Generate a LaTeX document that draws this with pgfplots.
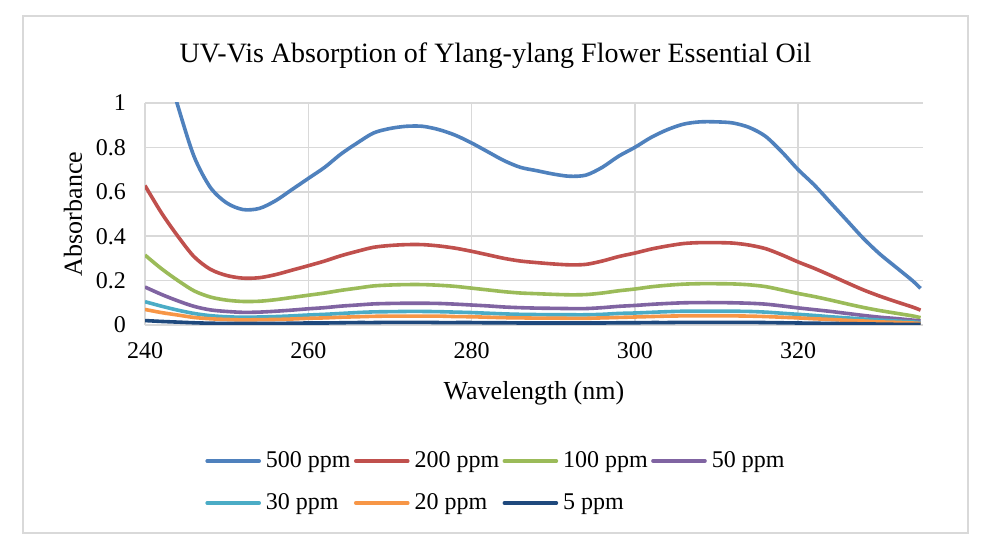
\documentclass[border=0pt]{standalone}
\usepackage{fontspec}
\setmainfont{Liberation Serif}
\usepackage{pgfplots}
\usepackage{pgfplotstable}
\pgfplotsset{compat=1.18}

\definecolor{cA}{HTML}{4F81BD}
\definecolor{cB}{HTML}{C0504D}
\definecolor{cC}{HTML}{9BBB59}
\definecolor{cD}{HTML}{8064A2}
\definecolor{cE}{HTML}{4BACC6}
\definecolor{cF}{HTML}{F79646}
\definecolor{cG}{HTML}{1F497D}
\definecolor{gridgray}{HTML}{D9D9D9}

% wavelength (nm) and absorbance for each concentration
\pgfplotstableread{
nm   p500  p200  p100  p50   p30   p20   p5
240  1.55  0.628 0.315 0.171 0.105 0.070 0.020
242  1.25  0.506 0.254 0.138 0.085 0.056 0.016
244  0.99  0.401 0.201 0.109 0.067 0.045 0.013
246  0.76  0.308 0.154 0.084 0.052 0.034 0.010
248  0.62  0.251 0.126 0.068 0.042 0.028 0.008
250  0.55  0.223 0.112 0.061 0.037 0.025 0.007
252  0.52  0.211 0.106 0.057 0.035 0.023 0.007
254  0.525 0.213 0.107 0.058 0.036 0.024 0.007
256  0.56  0.227 0.114 0.062 0.038 0.025 0.007
258  0.61  0.247 0.124 0.067 0.041 0.027 0.008
260  0.66  0.267 0.134 0.073 0.045 0.030 0.009
262  0.71  0.288 0.144 0.078 0.048 0.032 0.009
264  0.77  0.312 0.156 0.085 0.052 0.035 0.010
266  0.82  0.332 0.166 0.090 0.056 0.037 0.011
268  0.865 0.350 0.176 0.095 0.059 0.039 0.011
270  0.885 0.358 0.180 0.097 0.060 0.040 0.012
272  0.895 0.362 0.182 0.098 0.061 0.040 0.012
274  0.895 0.362 0.182 0.098 0.061 0.040 0.012
276  0.88  0.356 0.179 0.097 0.060 0.040 0.011
278  0.855 0.346 0.174 0.094 0.058 0.038 0.011
280  0.82  0.332 0.166 0.090 0.056 0.037 0.011
282  0.78  0.316 0.158 0.086 0.053 0.035 0.010
284  0.74  0.300 0.150 0.081 0.050 0.033 0.010
286  0.71  0.288 0.144 0.078 0.048 0.032 0.009
288  0.695 0.281 0.141 0.076 0.047 0.031 0.009
290  0.68  0.275 0.138 0.075 0.046 0.031 0.009
292  0.67  0.271 0.136 0.074 0.046 0.030 0.009
294  0.675 0.273 0.137 0.074 0.046 0.030 0.009
296  0.71  0.288 0.144 0.078 0.048 0.032 0.009
298  0.76  0.308 0.154 0.084 0.052 0.034 0.010
300  0.80  0.324 0.162 0.088 0.054 0.036 0.010
302  0.845 0.342 0.172 0.093 0.057 0.038 0.011
304  0.88  0.356 0.179 0.097 0.060 0.040 0.011
306  0.905 0.367 0.184 0.100 0.062 0.041 0.012
308  0.915 0.371 0.186 0.101 0.062 0.041 0.012
310  0.915 0.371 0.186 0.101 0.062 0.041 0.012
312  0.91  0.369 0.185 0.100 0.062 0.041 0.012
314  0.89  0.360 0.181 0.098 0.061 0.040 0.012
316  0.85  0.344 0.173 0.094 0.058 0.038 0.011
318  0.78  0.316 0.158 0.086 0.053 0.035 0.010
320  0.70  0.284 0.142 0.077 0.048 0.032 0.009
322  0.63  0.255 0.128 0.069 0.043 0.028 0.008
324  0.55  0.223 0.112 0.061 0.037 0.025 0.007
326  0.47  0.190 0.095 0.052 0.032 0.021 0.006
328  0.39  0.158 0.079 0.043 0.027 0.018 0.005
330  0.32  0.130 0.065 0.035 0.022 0.014 0.004
332  0.26  0.105 0.053 0.029 0.018 0.012 0.003
334  0.20  0.081 0.041 0.022 0.014 0.009 0.003
335  0.165 0.067 0.033 0.018 0.011 0.007 0.002
}\spectra

% legend text in fixed-width boxes so the columns line up
\newcommand{\entry}[1]{\makebox[40.5pt][l]{#1}}

\begin{document}
\begin{tikzpicture}
\useasboundingbox (0,0) rectangle (493pt,277.5pt);
\fill[white] (0,0) rectangle (493pt,277.5pt);
\draw[gridgray, line width=0.75pt] (11.5pt,11pt) rectangle (484pt,269.5pt);
\node[font=\fontsize{14}{17}\selectfont, anchor=base] at (247.75pt,246pt)
  {UV-Vis Absorption of Ylang-ylang Flower Essential Oil};
\begin{axis}[
  at={(72.5pt,115pt)}, anchor=south west,
  scale only axis, width=389pt, height=111pt,
  xmin=240, xmax=335.3, ymin=0, ymax=1,
  xtick={240,260,280,300,320},
  ytick={0,0.2,0.4,0.6,0.8,1},
  grid=major,
  grid style={gridgray, line width=0.75pt},
  axis line style={draw=none},
  major tick length=0pt,
  tick label style={font=\fontsize{12}{14}\selectfont},
  /pgf/number format/assume math mode=true,
  xticklabel style={yshift=-5pt},
  yticklabel style={xshift=-6pt},
  xlabel={Wavelength (nm)},
  xlabel style={at={(axis description cs:0.5,0)}, anchor=base, yshift=-37.5pt,
    font=\fontsize{13}{16}\selectfont},
  ylabel={Absorbance},
  ylabel style={at={(axis description cs:-0.0925,0.5)}, anchor=center,
    font=\fontsize{13}{16}\selectfont},
  legend columns=4,
  legend cell align=left,
  legend image code/.code={\draw[#1, line cap=round] (0pt,0pt) -- (26pt,0pt);},
  legend style={draw=none, fill=none,
    at={(axis description cs:0.0694,-0.55)}, anchor=north west,
    font=\fontsize{12}{14}\selectfont,
    nodes={inner sep=0pt},
    row sep=11.5pt,
    /tikz/every odd column/.append style={column sep=2.5pt},
    /tikz/every even column/.append style={column sep=3.5pt}},
  every axis plot/.append style={smooth, line width=1.8pt, no markers},
]
\addplot[cA] table[x=nm, y=p500] {\spectra};
\addlegendentry{\entry{500 ppm}}
\addplot[cB] table[x=nm, y=p200] {\spectra};
\addlegendentry{\entry{200 ppm}}
\addplot[cC] table[x=nm, y=p100] {\spectra};
\addlegendentry{\entry{100 ppm}}
\addplot[cD] table[x=nm, y=p50] {\spectra};
\addlegendentry{\entry{50 ppm}}
\addplot[cE] table[x=nm, y=p30] {\spectra};
\addlegendentry{\entry{30 ppm}}
\addplot[cF] table[x=nm, y=p20] {\spectra};
\addlegendentry{\entry{20 ppm}}
\addplot[cG] table[x=nm, y=p5] {\spectra};
\addlegendentry{\entry{5 ppm}}
\end{axis}
\end{tikzpicture}
\end{document}
